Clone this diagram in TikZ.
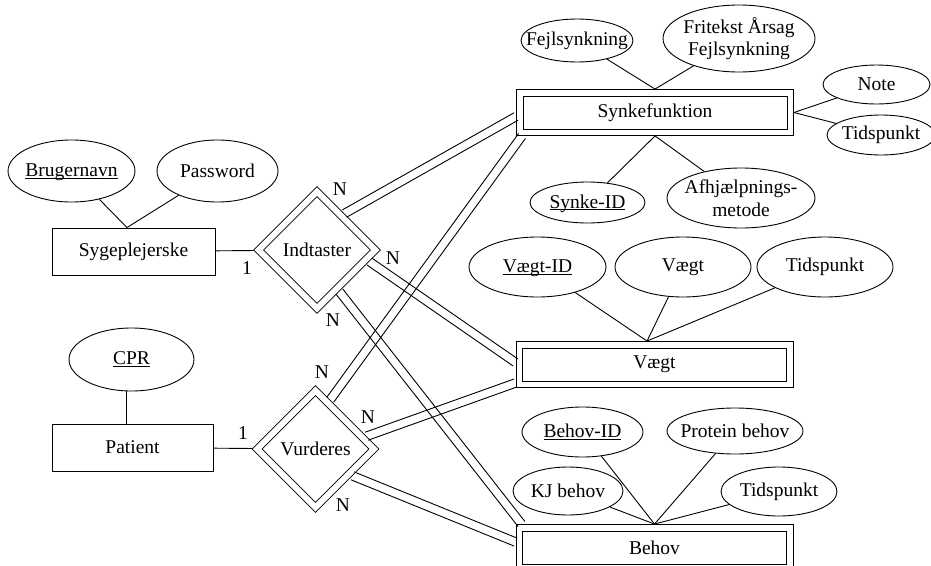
\documentclass[tikz,border=0pt]{standalone}
\usepackage{fontspec}
\setmainfont{Liberation Serif}
\usetikzlibrary{shapes.geometric,calc}

% text whose width does not enlarge the surrounding shape
\newcommand{\zw}[1]{\makebox[0pt]{#1}}
% key attribute: underlined just below the baseline
\newcommand{\keyattr}[1]{\makebox[0pt]{\underline{\raisebox{0pt}[\height][0pt]{#1}}}}
% total participation: two parallel lines between two points
\newcommand{\twinline}[2]{%
  \draw ($(#1)!4.25pt!90:(#2)$) -- ($(#2)!4.25pt!-90:(#1)$);
  \draw ($(#1)!4.25pt!-90:(#2)$) -- ($(#2)!4.25pt!90:(#1)$);}

\tikzset{
  attr/.style={ellipse, draw, inner sep=0pt, align=center},
  entity/.style={rectangle, draw, inner sep=0pt, minimum height=47pt},
  weakentity/.style={rectangle, draw, inner sep=0pt,
    minimum width=277pt, minimum height=46pt},
  weakrel/.style={diamond, aspect=1, draw, double, double distance=6pt, inner sep=0pt,
    minimum size=120pt, outer sep=3.9pt},
  card/.style={inner sep=0pt}
}

\begin{document}
\begin{tikzpicture}[x=1pt, y=-1pt, line width=0.9pt,
  font=\fontsize{19.5}{22.5}\selectfont]
\useasboundingbox (0,0) rectangle (931,565);
\clip (0,0) rectangle (931,565);

% entities and relationships
\node[entity, minimum width=163pt] (syg) at (133.5,251.5) {Sygeplejerske};
\node[entity, minimum width=161pt] (pat) at (132.5,447.5) {Patient};
\node[weakrel] (ind) at (317,250) {Indtaster};
\node[weakrel] (vur) at (315.5,449) {Vurderes};
\node[weakentity] (synk) at (655,112.5) {Synkefunktion};
\node[weakentity] (vaegt) at (654.5,364.5) {Vægt};
\node[weakentity] (behov) at (654.5,547.5) {Behov};
% inner frame of the weak entities
\foreach \e in {synk,vaegt,behov}
  \draw ([shift={(7,7)}]\e.north west) rectangle ([shift={(-7,-7)}]\e.south east);

% attributes
\node[attr, minimum width=127pt, minimum height=62pt] (brug) at (71.5,171) {\keyattr{Brugernavn}};
\node[attr, minimum width=121pt, minimum height=62pt] (pw) at (217.5,171) {\zw{Password}};
\node[attr, minimum width=125pt, minimum height=63pt] (cpr) at (131.5,359.5) {\keyattr{CPR}};
\node[attr, minimum width=112pt, minimum height=43pt] (fejl) at (577,40.5) {\zw{Fejlsynkning}};
\node[attr, minimum width=152pt, minimum height=67pt] (fri) at (739,38.5) {\zw{Fritekst Årsag}\\\zw{Fejlsynkning}};
\node[attr, minimum width=107pt, minimum height=39pt] (note) at (876.5,84.5) {\zw{Note}};
\node[attr, minimum width=108pt, minimum height=40pt] (tid1) at (881,135) {\zw{Tidspunkt}};
\node[attr, minimum width=115pt, minimum height=41pt] (sid) at (587.5,202.5) {\keyattr{Synke-ID}};
\node[attr, minimum width=148pt, minimum height=60pt] (afh) at (741,198) {\zw{Afhjælpnings-}\\\zw{metode}};
\node[attr, minimum width=137pt, minimum height=60pt] (vid) at (537.5,267) {\keyattr{Vægt-ID}};
\node[attr, minimum width=136pt, minimum height=60pt] (vv) at (683,267) {\zw{Vægt}};
\node[attr, minimum width=136pt, minimum height=60pt] (tid2) at (825,267) {\zw{Tidspunkt}};
\node[attr, minimum width=121pt, minimum height=50pt] (bid) at (582.5,432) {\keyattr{Behov-ID}};
\node[attr, minimum width=136pt, minimum height=46pt] (prot) at (735,431) {\zw{Protein behov}};
\node[attr, minimum width=110pt, minimum height=48pt] (kj) at (568,491) {\zw{KJ behov}};
\node[attr, minimum width=116pt, minimum height=49pt] (tid3) at (779,491.5) {\zw{Tidspunkt}};

% attribute links
\coordinate (sygtop) at ($(syg.north)+(-6.5,0)$);
\draw (brug) -- (sygtop);
\draw (pw) -- (sygtop);
\coordinate (pattop) at ($(pat.north)+(-6,0)$);
\draw (pattop |- cpr.south) -- (pattop);
\draw (fejl) -- (synk.north);
\draw (fri) -- (synk.north);
\draw (note) -- (synk.east);
\draw (tid1) -- (synk.east);
\draw (sid) -- (synk.south);
\draw (afh) -- (synk.south);
\coordinate (vtop) at ($(vaegt.north)+(-7.5,0)$);
\draw (vid) -- (vtop);
\draw (vv) -- (vtop);
\draw (tid2) -- (vtop);
\draw (bid) -- (behov.north);
\draw (prot) -- (behov.north);
\draw (kj) -- (behov.north);
\draw (tid3) -- (behov.north);

% partial participation
\draw (syg) -- (ind);
\draw (pat) -- (vur);

% total participation
\coordinate (ia) at ($(ind.north)!0.43!(ind.east)$);
\coordinate (sa) at ($(synk.west)+(0,4)$);
\coordinate (ib) at ($(ind.east)!0.18!(ind.south)$);
\coordinate (va) at ($(vaegt.west)+(0,-2)$);
\coordinate (ic) at ($(ind.east)!0.65!(ind.south)$);
\coordinate (ba) at ($(behov.north west)+(6,0)$);
\coordinate (vua) at ($(vur.north)!0.23!(vur.east)$);
\coordinate (sb) at ($(synk.south west)+(6,0)$);
\coordinate (vub) at ($(vur.north)!0.8!(vur.east)$);
\coordinate (vb) at ($(vaegt.south west)+(0,-5)$);
\coordinate (vuc) at ($(vur.east)!0.42!(vur.south)$);
\coordinate (bb) at ($(behov.north west)+(0,18)$);
\twinline{ia}{sa}
\twinline{ib}{va}
\twinline{ic}{ba}
\twinline{vua}{sb}
\twinline{vub}{vb}
\twinline{vuc}{bb}

% cardinalities
\node[card] (c1) at (247,268) {1};
\node[card] (n1) at (340,189) {N};
\node[card] (n2) at (393,258) {N};
\node[card] (n3) at (333,320) {N};
\node[card] (c2) at (243,433) {1};
\node[card] (n4) at (322,372) {N};
\node[card] (n5) at (368,417) {N};
\node[card] (n6) at (343,505) {N};
\end{tikzpicture}
\end{document}
